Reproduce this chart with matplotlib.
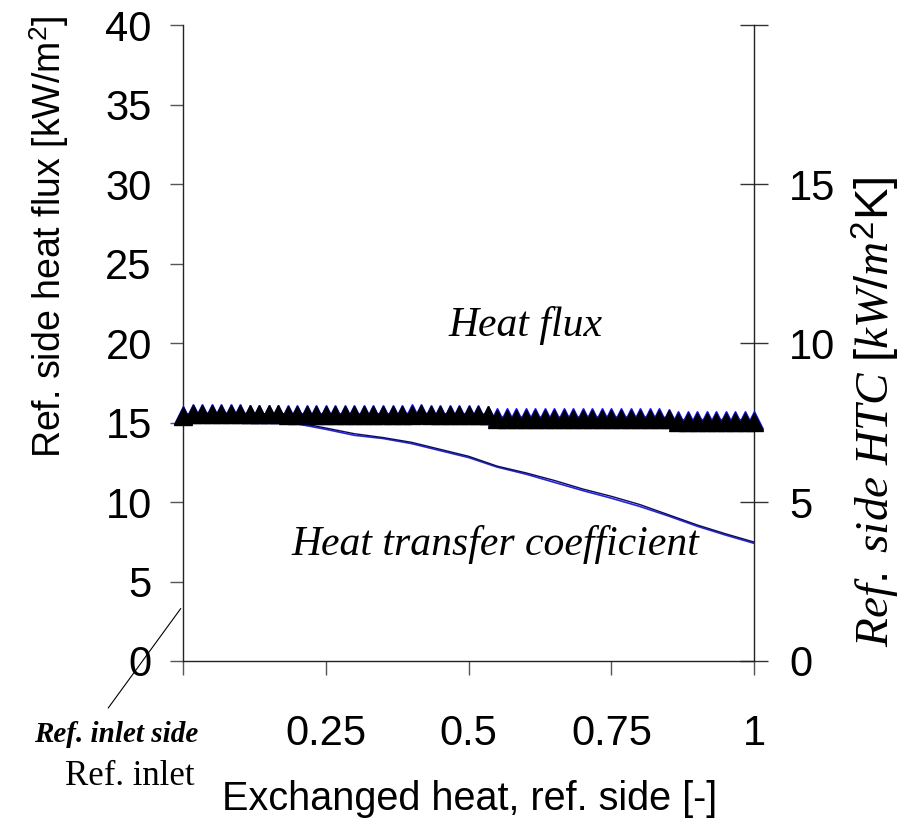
import numpy as np
import matplotlib
matplotlib.use("Agg")
import matplotlib.pyplot as plt

plt.rcParams['mathtext.fontset'] = 'custom'
plt.rcParams['mathtext.rm'] = 'Liberation Sans'
plt.rcParams['mathtext.it'] = 'Liberation Serif:italic'

# exchanged heat fraction (sampling grid of the model output)
exchanged = np.linspace(0, 1, 61)

# heat flux on ref. side [kW/m2]
flux_black = [15.40, 15.55, 15.55, 15.55, 15.55, 15.55, 15.55, 15.55, 15.55, 15.55,
              15.55, 15.50, 15.50, 15.50, 15.50, 15.50, 15.50, 15.50, 15.50, 15.50,
              15.50, 15.50, 15.50, 15.50, 15.50, 15.55, 15.50, 15.50, 15.50, 15.50,
              15.50, 15.50, 15.50, 15.25, 15.25, 15.25, 15.25, 15.25, 15.25, 15.25,
              15.25, 15.25, 15.25, 15.25, 15.25, 15.25, 15.25, 15.25, 15.25, 15.25,
              15.25, 15.25, 15.05, 15.05, 15.05, 15.05, 15.05, 15.05, 15.05, 15.05,
              15.05]
flux_blue = [15.45, 15.60, 15.60, 15.60, 15.60, 15.60, 15.60, 15.55, 15.55, 15.55,
             15.55, 15.55, 15.55, 15.55, 15.55, 15.55, 15.55, 15.55, 15.55, 15.55,
             15.55, 15.55, 15.55, 15.55, 15.60, 15.60, 15.55, 15.55, 15.55, 15.55,
             15.55, 15.55, 15.50, 15.35, 15.35, 15.35, 15.35, 15.35, 15.35, 15.35,
             15.35, 15.35, 15.35, 15.35, 15.35, 15.35, 15.35, 15.35, 15.35, 15.35,
             15.35, 15.30, 15.18, 15.18, 15.18, 15.18, 15.18, 15.18, 15.18, 15.18,
             15.15]

# ref. side heat transfer coefficient [kW/m2K]
htc_x = [0.0, 0.05, 0.1, 0.15, 0.2, 0.25, 0.3, 0.35, 0.4, 0.45, 0.5,
         0.55, 0.6, 0.65, 0.7, 0.75, 0.8, 0.85, 0.9, 0.95, 1.0]
htc_black = [7.78, 7.78, 7.72, 7.62, 7.50, 7.33, 7.15, 7.03, 6.88, 6.66, 6.44,
             6.13, 5.92, 5.68, 5.41, 5.18, 4.92, 4.60, 4.28, 4.00, 3.74]
htc_blue = [7.74, 7.75, 7.68, 7.57, 7.46, 7.29, 7.10, 7.00, 6.84, 6.62, 6.40,
            6.10, 5.88, 5.62, 5.36, 5.12, 4.86, 4.56, 4.24, 3.96, 3.70]

x_ticks = [0, 0.25, 0.5, 0.75, 1]
x_ticklabels = ['', '0.25', '0.5', '0.75', '1']
left_ticks = [0, 5, 10, 15, 20, 25, 30, 35, 40]
right_ticks = [0, 5, 10, 15, 20]
right_ticklabels = ['0', '5', '10', '15', '']

sans = 'Liberation Sans'
serif = 'Liberation Serif'

fig = plt.figure(figsize=(9.12, 8.25), dpi=100)
ax = fig.add_axes([0.2007, 0.1988, 0.6264, 0.7705])
ax2 = ax.twinx()
# heat flux markers drawn over the HTC curves
ax.set_zorder(ax2.get_zorder() + 1)
ax.patch.set_visible(False)

ax.set_xlim(0, 1)
ax.set_ylim(0, 40)
ax2.set_ylim(0, 20)

ax.plot(exchanged, flux_blue, color='#1010ff', lw=1.2, marker='^', ms=12.5,
        mec='#1010ff', mfc='#1010ff', clip_on=False, zorder=3)
ax.plot(exchanged, flux_black, color='black', lw=1.2, marker='^', ms=12.5,
        mec='black', mfc='black', clip_on=False, zorder=4)
ax2.plot(htc_x, htc_blue, color='#2020ff', lw=1.2)
ax2.plot(htc_x, htc_black, color='#101030', lw=1.0)

for s in ['top', 'right']:
    ax.spines[s].set_visible(False)
ax2.spines['top'].set_visible(False)
ax2.spines['left'].set_visible(False)
ax2.spines['bottom'].set_visible(False)
for a in (ax, ax2):
    for s in a.spines.values():
        s.set_color('#222222')
        s.set_linewidth(1.0)

ax.set_xticks(x_ticks)
ax.set_xticklabels(x_ticklabels, fontsize=30, family=sans)
ax.set_yticks(left_ticks)
ax.set_yticklabels([str(v) for v in left_ticks], fontsize=30, family=sans)
ax.tick_params(axis='x', direction='out', length=10, width=1, color='#555555', pad=28)
ax.tick_params(axis='y', direction='out', length=9.5, width=1, color='#555555', pad=13)

ax2.set_yticks(right_ticks)
ax2.set_yticklabels(right_ticklabels, fontsize=30, family=sans)
ax2.tick_params(axis='y', direction='inout', length=20, width=1, color='#333333', pad=15)

ax.text(-0.235, 0.667, r'Ref. side heat flux [kW/m$^2$]', transform=ax.transAxes,
        rotation=90, ha='center', va='center', fontsize=27, family=sans)
ax.text(1.213, 0.392, r'$\mathit{Ref.\ side\ HTC\ [kW/m}^{2}\mathrm{K]}$',
        transform=ax.transAxes, rotation=90, ha='center', va='center', fontsize=34)
ax.text(0.502, -0.217, 'Exchanged heat, ref. side [-]', transform=ax.transAxes,
        ha='center', va='center', fontsize=28.5, family=sans)

ax.text(0.599, 21.1, 'Heat flux', ha='center', va='center', fontsize=30,
        family=serif, style='italic')
ax.text(0.546, 7.3, 'Heat transfer coefficient', ha='center', va='center',
        fontsize=30, family=serif, style='italic')

ax.annotate('', xy=(-0.004, 3.3), xytext=(-0.131, -2.96),
            arrowprops=dict(arrowstyle='-', lw=0.8, color='black',
                            shrinkA=0, shrinkB=0),
            annotation_clip=False)
fig.text(198 / 912, 1 - 742 / 825, 'Ref. inlet side', ha='right', va='baseline',
         fontsize=21, family=serif, style='italic', weight='bold')
fig.text(195 / 912, 1 - 785 / 825, 'Ref. inlet', ha='right', va='baseline',
         fontsize=25, family=serif)

fig.savefig('out.png', dpi=100)
